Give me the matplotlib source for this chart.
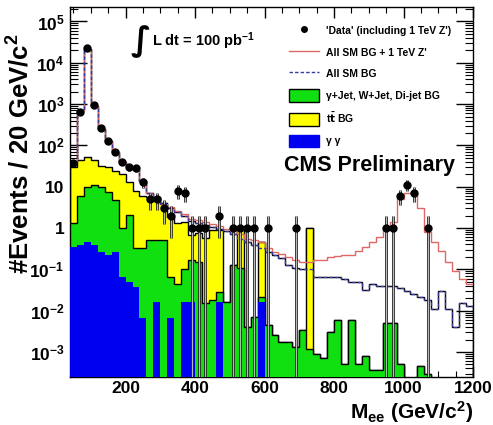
import numpy as np
import matplotlib
matplotlib.use("Agg")
import matplotlib.pyplot as plt
from matplotlib.patches import Patch
from matplotlib.lines import Line2D
from matplotlib.ticker import FixedLocator, LogLocator, FuncFormatter, MultipleLocator, NullFormatter

plt.rcParams['font.family'] = ['Liberation Sans', 'DejaVu Sans']
plt.rcParams['font.weight'] = 'bold'
plt.rcParams['mathtext.default'] = 'regular'

# ---------------- data (20 GeV bins from 40 to 1200 GeV) ----------------
bin_edges = np.arange(40, 1201, 20)

data_counts = [37, 640, 23000, 950, 260, 130, 70, 40, 30, 28,
               13, 5, 5, 3, 2, 8, 7, 1, 1, 1,
               0, 2, 0, 1, 1, 1, 1, 0, 1, 0,
               0, 0, 1, 0, 0, 0, 0, 0, 0, 0,
               0, 0, 0, 0, 0, 1, 1, 6, 11, 7,
               0, 1, 0, 0, 0, 0, 0, 0]

all_sm_bg = [40, 700, 22000, 900, 250, 130, 70, 40, 30, 26,
             14, 7, 5.5, 3.8, 3.0, 2.4, 2.0, 1.5, 1.35, 1.2,
             1.05, 0.95, 0.85, 0.7, 0.55, 0.45, 0.38, 0.33, 0.27, 0.22,
             0.19, 0.13, 0.11, 0.1, 0.1, 0.065, 0.065, 0.065, 0.065, 0.06,
             0.05, 0.05, 0.032, 0.045, 0.04, 0.04, 0.04, 0.035, 0.03, 0.025,
             0.022, 0.018, 0.011, 0.03, 0.011, 0.004, 0.015, 0.013]

all_sm_bg_plus_zprime = [40, 700, 22000, 900, 250, 130, 70, 40, 30, 26,
                         14, 7, 5.5, 3.9, 3.2, 2.6, 2.2, 1.7, 1.55, 1.4,
                         1.25, 1.1, 0.95, 0.85, 0.7, 0.55, 0.5, 0.45, 0.33, 0.27,
                         0.23, 0.2, 0.17, 0.15, 0.15, 0.17, 0.17, 0.2, 0.21, 0.22,
                         0.22, 0.28, 0.35, 0.45, 0.6, 0.9, 1.4, 5, 7, 7,
                         3, 0.8, 0.45, 0.28, 0.15, 0.09, 0.06, 0.045]

# cumulative stack tops: gamma-gamma ; + jets ; + ttbar
stack_gg = [0.35, 0.39, 0.47, 0.39, 0.27, 0.22, 0.27, 0.066, 0.05, 0.038,
            0.0066, 0, 0.016, 0, 0.0066, 0, 0.016, 0.016, 0, 0,
            0, 0.016, 0, 0, 0, 0, 0, 0.016, 0, 0,
            0, 0, 0, 0, 0, 0, 0, 0, 0, 0,
            0, 0, 0, 0, 0, 0, 0, 0, 0, 0,
            0, 0, 0, 0, 0, 0, 0, 0]

stack_gg_jets = [1.3, 6, 10, 11, 10, 7.5, 4.8, 1.0, 2.1, 0.33,
                 0.33, 0.5, 0.5, 0.5, 0.066, 0.045, 0.1, 0.17, 0.15, 0.015,
                 0.018, 0.028, 0.016, 0.13, 0.11, 0.004, 0.007, 0.022, 0.0045, 0.0026,
                 0.0017, 0.0017, 0.0013, 0.0034, 0.0012, 0.0009, 0.0007, 0.003, 0.006, 0.0005,
                 0.006, 0.0005, 0.0008, 0.00037, 0.00037, 0.005, 0.005, 0.0005, 0, 0,
                 0.00047, 0.0003, 0, 0, 0, 0, 0, 0]

stack_gg_jets_tt = [30, 45, 52, 45, 32, 30, 24, 20, 13, 8,
                    6, 5.5, 5, 4, 1.9, 1.3, 1.4, 0.68, 0.75, 0.57,
                    0.9, 0.9, 0.016, 0.13, 1.0, 0.004, 0.007, 0.47, 0.0045, 0.0026,
                    0.0017, 0.0017, 0.0013, 0.0034, 1.0, 0.0009, 0.0007, 0.003, 0.006, 0.0005,
                    0.006, 0.0005, 0.0008, 0.00037, 0.00037, 0.005, 0.005, 0.0005, 0, 0,
                    0.00047, 0.0003, 0, 0, 0, 0, 0, 0]

# ---------------- figure ----------------
W, H = 493, 425
fig = plt.figure(figsize=(W / 100, H / 100), dpi=100)
ax = fig.add_axes([70 / W, 48 / H, 403 / W, 370 / H])

YMIN, YMAX = 2.48e-4, 2.24e5
floor = 1e-6

def fl(v):
    return np.maximum(np.asarray(v, float), floor)

stack_all = np.maximum(np.asarray(all_sm_bg, float), np.asarray(stack_gg_jets_tt, float))

GREEN = '#10e010'
YELLOW = '#ffff00'
BLUE = '#0000f0'

# white (DY) layer
ax.stairs(fl(stack_all), bin_edges, baseline=floor, fill=True, color='white', zorder=1)
ax.stairs(fl(stack_all), bin_edges, baseline=floor, color='black', lw=1.0, zorder=1.1)
# ttbar
ax.stairs(fl(stack_gg_jets_tt), bin_edges, baseline=floor, fill=True, color=YELLOW, zorder=2)
ax.stairs(fl(stack_gg_jets_tt), bin_edges, baseline=floor, color='black', lw=1.0, zorder=2.1)
# jets
ax.stairs(fl(stack_gg_jets), bin_edges, baseline=floor, fill=True, color=GREEN, zorder=3)
ax.stairs(fl(stack_gg_jets), bin_edges, baseline=floor, color='black', lw=1.0, zorder=3.1)
# gamma gamma
ax.stairs(fl(stack_gg), bin_edges, baseline=floor, fill=True, color=BLUE, zorder=4)

# lines
ax.stairs(all_sm_bg_plus_zprime, bin_edges, baseline=None, color='#e06666', lw=1.0, zorder=5)
ax.stairs(all_sm_bg, bin_edges, baseline=None, color='#3a3a9a', lw=1.0,
          linestyle=(0, (2.5, 1.5)), zorder=5.1)

# data with error bars
centers = 0.5 * (bin_edges[:-1] + bin_edges[1:])
dc = np.asarray(data_counts, float)
m = dc > 0
x = centers[m]
y = dc[m]
err = np.sqrt(y)
lo = np.where(y - err > 0, y - err, floor)
hi = y + err
ax.vlines(x, lo, hi, colors='#222222', lw=2.0, zorder=6)
ax.vlines(x, lo, hi, colors='#b8b8b8', lw=0.8, zorder=6.1)
ax.plot(x, y, 'o', color='black', ms=5, zorder=7)

# axes
ax.set_yscale('log')
ax.set_xlim(40, 1200)
ax.set_ylim(YMIN, YMAX)
ax.xaxis.set_major_locator(FixedLocator([200, 400, 600, 800, 1000, 1200]))
ax.xaxis.set_minor_locator(MultipleLocator(50))
ax.yaxis.set_major_locator(FixedLocator([1e-3, 1e-2, 1e-1, 1, 10, 1e2, 1e3, 1e4, 1e5]))
ax.yaxis.set_minor_locator(LogLocator(base=10, subs=np.arange(2, 10), numticks=20))
ax.yaxis.set_minor_formatter(NullFormatter())

def yfmt(v, pos):
    e = int(round(np.log10(v)))
    if e == 0:
        return '1'
    if e == 1:
        return '10'
    return r'10$^{%d}$' % e

ax.yaxis.set_major_formatter(FuncFormatter(yfmt))
ax.tick_params(which='both', direction='in', top=True, right=True, labelsize=12.5)
ax.tick_params(axis='y', which='major', length=12, width=1.0, pad=4)
ax.tick_params(axis='y', which='minor', length=6, width=0.8)
ax.tick_params(axis='x', which='major', length=8, width=1.0, pad=3)
ax.tick_params(axis='x', which='minor', length=4, width=0.8)
for lab in ax.get_xticklabels() + ax.get_yticklabels():
    lab.set_fontweight('bold')
for s in ax.spines.values():
    s.set_linewidth(1.0)

fig.text(21 / W, 1 - 154 / H, r'#Events / 20 GeV/c$^{2}$', rotation=90, ha='center', va='center',
         fontsize=18.5, fontweight='bold')
fig.text(473 / W, 1 - 412 / H, r'M$_{ee}$ (GeV/c$^{2}$)', ha='right', va='center',
         fontsize=15, fontweight='bold')

# annotations
fig.text(141 / W, 1 - 41 / H, '\u222b', fontsize=24, ha='center', va='center', family='DejaVu Sans')
fig.text(152 / W, 1 - 41 / H, r'L dt = 100 pb$^{-1}$', fontsize=10.5, fontweight='bold', ha='left', va='center')
fig.text(370 / W, 1 - 166 / H, 'CMS Preliminary', fontsize=15.5, fontweight='bold', ha='center', va='center')

handles = [
    Line2D([], [], marker='o', color='black', ls='none', ms=4),
    Line2D([], [], color='#e06666', lw=1.0),
    Line2D([], [], color='#3a3a9a', lw=1.0, linestyle=(0, (2.5, 1.5))),
    Patch(facecolor=GREEN, edgecolor='black', lw=1.0),
    Patch(facecolor=YELLOW, edgecolor='black', lw=1.0),
    Patch(facecolor=BLUE, edgecolor=BLUE, lw=1.0),
]
labels = ["'Data' (including 1 TeV Z')", "All SM BG + 1 TeV Z'", 'All SM BG',
          '\u03b3+Jet, W+Jet, Di-jet BG', r't$\bar{\rm t}$ BG', '\u03b3 \u03b3']
leg = ax.legend(handles, labels, loc='upper left', bbox_to_anchor=((285 - 70) / 403, 1 - (20 - 7) / 370),
                frameon=False, fontsize=7.5, handlelength=2.9, handleheight=1.5,
                labelspacing=0.85, handletextpad=0.6, borderaxespad=0)
for t in leg.get_texts():
    t.set_fontweight('bold')

fig.savefig('out.png', dpi=100)
